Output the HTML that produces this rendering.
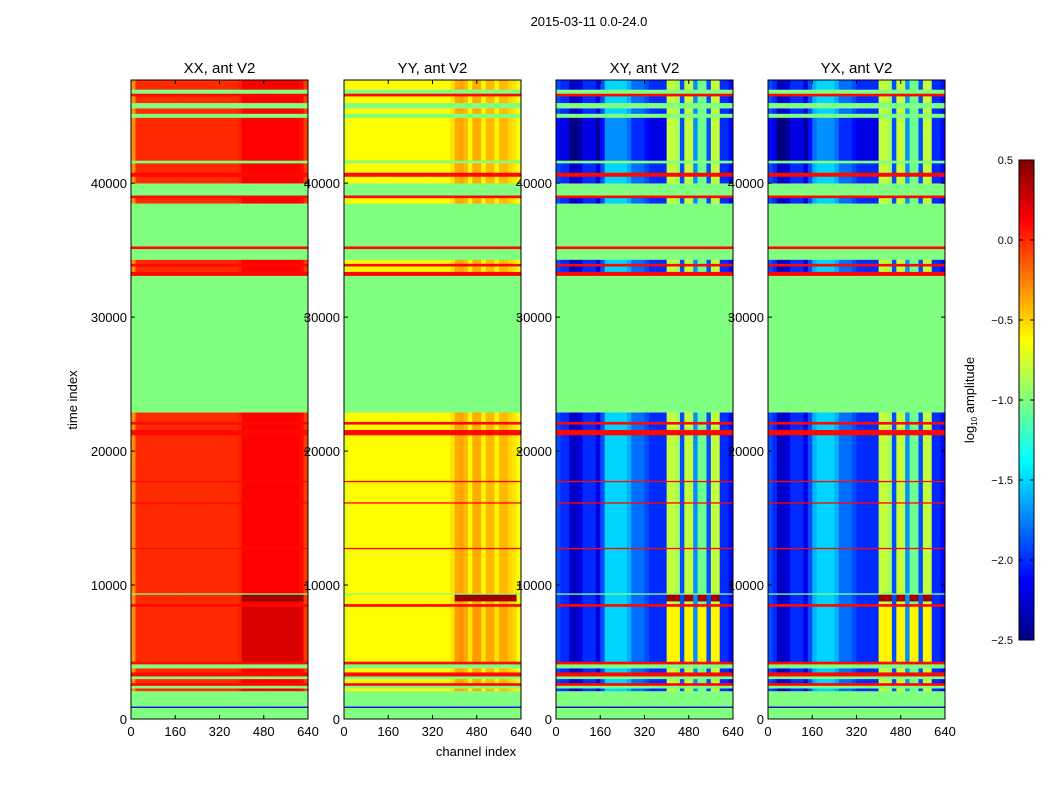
<!DOCTYPE html>
<html><head><meta charset="utf-8">
<style>
html,body{margin:0;padding:0;background:#fff;}
svg text{font-family:"Liberation Sans",sans-serif;fill:#000;}
</style></head>
<body>
<svg id="fig" width="1050" height="800" xmlns="http://www.w3.org/2000/svg">
<rect x="0" y="0" width="1050" height="800" fill="#fff"/>
<text x="589" y="26" font-size="13" text-anchor="middle">2015-03-11 0.0-24.0</text>
<text transform="translate(77,400) rotate(-90)" font-size="13" text-anchor="middle">time index</text>
<text x="476" y="756" font-size="13" text-anchor="middle">channel index</text>
<g id="panels"></g>
<g id="cbar"></g>
</svg>
<script>
// time bands: [start, end, type]  g=flagged, r=red line, k=dark line, d=data, d2=data lower block, d3=hot row, x=data upper dark
const bandStart = [0,850,950,2100,2300,2500,2700,3000,3200,3500,3800,4100,4300,8400,8600,8800,9300,9400,12700,12800,16100,16200,17700,17800,21200,21600,22000,22200,22900,33100,33400,33800,34000,34300,35100,35300,38500,38900,39100,40000,40500,40800,41500,41700,44900,45200,45600,46000,46500,46700,47000];
const bandEnd   = [850,950,2100,2300,2500,2700,3000,3200,3500,3800,4100,4300,8400,8600,8800,9300,9400,12700,12800,16100,16200,17700,17800,21200,21600,22000,22200,22900,33100,33400,33800,34000,34300,35100,35300,38500,38900,39100,40000,40500,40800,41500,41700,44900,45200,45600,46000,46500,46700,47000,47700];
const bandType  = ['g','k','g','d','g','r','d','g','r','d','g','r','d2','r','d','d3','g','d','r','d','r','d','r','d','r','d','r','d','g','r','d','r','d','g','r','g','d','r','g','d','r','d','g','x','g','d','g','d','r','g','d'];
// channel profiles, 40 bins of 16 channels
const profXX = [-0.3,0,0,0,0,0,0,0,0,0,0,0,0,0,0,0,0,0,0,0,0,0,0,0,0.03,0.13,0.13,0.13,0.13,0.13,0.13,0.13,0.13,0.13,0.13,0.13,0.13,0.13,0.1,-0.05];
const profYY = [-0.7,-0.62,-0.62,-0.62,-0.62,-0.62,-0.62,-0.62,-0.62,-0.62,-0.62,-0.62,-0.62,-0.62,-0.62,-0.62,-0.62,-0.62,-0.62,-0.62,-0.62,-0.62,-0.62,-0.62,-0.55,-0.38,-0.35,-0.42,-0.6,-0.38,-0.38,-0.6,-0.42,-0.42,-0.6,-0.42,-0.42,-0.5,-0.55,-0.65];
const profXY = [-1.9,-2.0,-2.0,-2.3,-2.3,-2.2,-2.0,-2.0,-2.0,-2.2,-1.9,-1.5,-1.5,-1.5,-1.5,-1.5,-1.6,-1.8,-1.8,-1.8,-1.9,-2.0,-2.0,-2.0,-2.0,-0.8,-0.8,-0.9,-1.9,-0.8,-0.8,-1.7,-1.05,-1.05,-1.9,-0.8,-0.8,-2.0,-2.0,-2.1];
const profYX = [-1.9,-2.0,-2.3,-2.3,-2.2,-2.0,-2.0,-2.0,-2.2,-1.9,-1.6,-1.5,-1.5,-1.5,-1.5,-1.6,-1.8,-1.8,-1.8,-1.9,-2.0,-2.0,-2.0,-2.0,-2.0,-0.8,-0.8,-0.9,-1.9,-0.8,-0.8,-1.7,-1.05,-1.05,-1.9,-0.8,-0.8,-2.0,-2.0,-2.1];
const panelTitles = ['XX, ant V2','YY, ant V2','XY, ant V2','YX, ant V2'];
const xTicks = [0,160,320,480,640];
const yTicks = [0,10000,20000,30000,40000];
const cbTicks = [0.5,0.0,-0.5,-1.0,-1.5,-2.0,-2.5];
const cbLabels = ['0.5','0.0','\u22120.5','\u22121.0','\u22121.5','\u22122.0','\u22122.5'];

const panelX = [131,344,556,768], PW = 177, PT = 80, PB = 719;
const TMAX = 47700, CMAX = 640, VMIN = -2.5, VMAX = 0.5;
const NS = 'http://www.w3.org/2000/svg';
function el(tag, attrs, parent){const e=document.createElementNS(NS,tag);for(const k in attrs)e.setAttribute(k,attrs[k]);parent.appendChild(e);return e;}
function jet(v){let t=(v-VMIN)/(VMAX-VMIN);t=Math.max(0,Math.min(1,t));
 const f=x=>Math.max(0,Math.min(1,x));
 const r=f(1.5-Math.abs(4*t-3)),g=f(1.5-Math.abs(4*t-2)),b=f(1.5-Math.abs(4*t-1));
 return 'rgb('+Math.round(r*255)+','+Math.round(g*255)+','+Math.round(b*255)+')';}
function cellValue(p, prof, type, c){
 const cross = p>=2;
 if(type==='g') return -1.0;
 if(type==='r') return 0.1;
 if(type==='k') return cross?-2.3:-2.2;
 let v = prof[c];
 if(type==='d2' && c>=25 && c<=38){ if(p===0) v+=0.1; else if(p===1) v+=0.05; else if(prof[c]>-1.2) v=-0.6; }
 if(type==='d3' && c>=25 && c<=38){ if(p<2) v=0.4; else if(prof[c]>-1.2) v=0.4; }
 if(type==='x' && cross && c<25) v-=0.2;
 return v;}
const profs=[profXX,profYY,profXY,profYX];
const panels=document.getElementById('panels');
for(let p=0;p<4;p++){
 const x0=panelX[p];
 const xs=ch=>x0+ch/CMAX*PW, ys=t=>PB-t/TMAX*(PB-PT);
 const g=el('g',{},panels);
 
 
 for(let b=0;b<bandStart.length;b++){
  for(let c=0;c<40;c++){
   const r=el('rect',{x:xs(c*16).toFixed(2),y:ys(bandEnd[b]).toFixed(2),width:(xs((c+1)*16)-xs(c*16)+0.4).toFixed(2),height:(ys(bandStart[b])-ys(bandEnd[b])+0.3).toFixed(2),fill:jet(cellValue(p,profs[p],bandType[b],c))},g);
   
   
  }
 }
 const fr=el('rect',{x:x0,y:PT,width:PW,height:PB-PT,fill:'none',stroke:'#000','stroke-width':1},g);
 
 
 const tt=el('text',{x:x0+PW/2,y:73,'font-size':15,'text-anchor':'middle'},g);tt.textContent=panelTitles[p];
 
 
 xTicks.forEach(v=>{const X=xs(v);el('line',{x1:X,x2:X,y1:PB,y2:PB-4,stroke:'#000'},g);el('line',{x1:X,x2:X,y1:PT,y2:PT+4,stroke:'#000'},g);
  const t=el('text',{x:X,y:PB+17,'font-size':13,'text-anchor':'middle'},g);t.textContent=v;
  
  });
 yTicks.forEach(v=>{const Y=ys(v);el('line',{x1:x0,x2:x0+4,y1:Y,y2:Y,stroke:'#000'},g);el('line',{x1:x0+PW,x2:x0+PW-4,y1:Y,y2:Y,stroke:'#000'},g);
  const t=el('text',{x:x0-4,y:Y+5,'font-size':13,'text-anchor':'end'},g);t.textContent=v;
  
  });
}
// colorbar
const cb=document.getElementById('cbar');
const CX=1019,CW=15,CT=160,CB=640;
const cy=v=>CB-(v-VMIN)/(VMAX-VMIN)*(CB-CT);
for(let i=0;i<120;i++){const v0=VMIN+i*(VMAX-VMIN)/120,v1=VMIN+(i+1)*(VMAX-VMIN)/120;
 const r=el('rect',{x:CX,y:cy(v1),width:CW,height:cy(v0)-cy(v1)+0.5,fill:jet((v0+v1)/2)},cb);
 
 }
const cf=el('rect',{x:CX,y:CT,width:CW,height:CB-CT,fill:'none',stroke:'#000'},cb);


cbTicks.forEach((v,i)=>{const Y=cy(v);el('line',{x1:CX,x2:CX+4,y1:Y,y2:Y,stroke:'#000'},cb);el('line',{x1:CX+CW,x2:CX+CW-4,y1:Y,y2:Y,stroke:'#000'},cb);
 const t=el('text',{x:1013,y:Y+4,'font-size':11,'text-anchor':'end'},cb);t.textContent=cbLabels[i];
 
 });
const cl=el('text',{transform:'translate(974,400) rotate(-90)','font-size':13,'text-anchor':'middle'},cb);


cl.innerHTML='log<tspan font-size="8" dy="3">10</tspan><tspan dy="-3"> amplitude</tspan>';
</script>
</body></html>
